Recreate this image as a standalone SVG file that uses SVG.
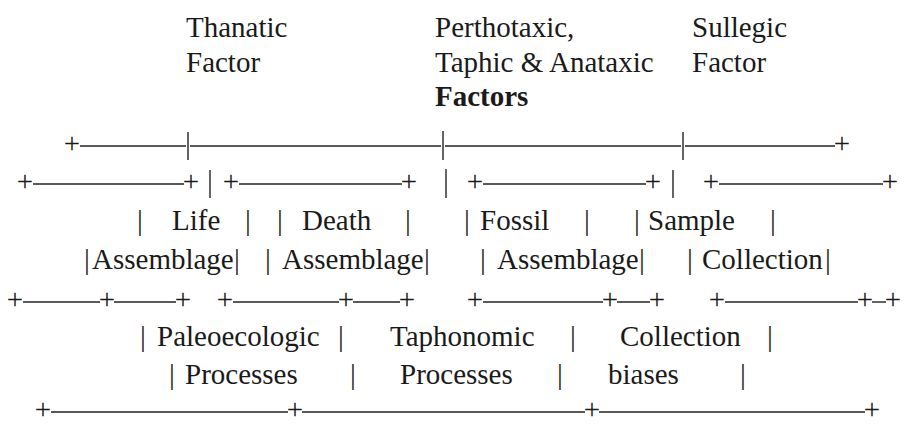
<svg xmlns="http://www.w3.org/2000/svg" width="905" height="425" viewBox="0 0 905 425">
<style>
text{font-family:"Liberation Serif","Times New Roman",serif;font-size:29px;fill:#1a1a1a}
.b{font-weight:bold}
.m{text-anchor:middle}
line{stroke:#222;stroke-width:1.4}
</style>
<rect width="905" height="425" fill="#fff"/>
<g id="headers">
<text x="186" y="37">Thanatic</text>
<text x="186" y="72">Factor</text>
<text x="435" y="37">Perthotaxic,</text>
<text x="435" y="72">Taphic &amp; Anataxic</text>
<text x="435" y="106" class="b">Factors</text>
<text x="692" y="37">Sullegic</text>
<text x="692" y="72">Factor</text>
</g>
<g id="rowA">
<text x="72" y="153" class="m">+</text>
<line x1="80" y1="146" x2="186" y2="146"/>
<line x1="188" y1="132" x2="188" y2="160"/>
<line x1="190" y1="146" x2="441" y2="146"/>
<line x1="443" y1="131" x2="443" y2="160"/>
<line x1="445" y1="146" x2="681" y2="146"/>
<line x1="683" y1="132" x2="683" y2="160"/>
<line x1="685" y1="146" x2="835" y2="146"/>
<text x="842" y="153" class="m">+</text>
</g>
<g id="rowB">
<text x="25" y="191" class="m">+</text>
<line x1="33" y1="184" x2="184" y2="184"/>
<text x="191" y="191" class="m">+</text>
<line x1="210" y1="170" x2="210" y2="198"/>
<text x="231" y="191" class="m">+</text>
<line x1="239" y1="184" x2="402" y2="184"/>
<text x="409" y="191" class="m">+</text>
<line x1="446" y1="169" x2="446" y2="198"/>
<text x="475" y="191" class="m">+</text>
<line x1="483" y1="184" x2="646" y2="184"/>
<text x="653" y="191" class="m">+</text>
<line x1="673" y1="170" x2="673" y2="198"/>
<text x="711" y="191" class="m">+</text>
<line x1="719" y1="184" x2="883" y2="184"/>
<text x="890" y="191" class="m">+</text>
</g>
<g id="life-death-fossil-sample">
<text x="140" y="230" class="m">|</text>
<text x="172" y="230">Life</text>
<text x="248" y="230" class="m">|</text>
<text x="280" y="230" class="m">|</text>
<text x="302" y="230">Death</text>
<text x="408" y="230" class="m">|</text>
<text x="467" y="230" class="m">|</text>
<text x="480" y="230">Fossil</text>
<text x="587" y="230" class="m">|</text>
<text x="637" y="230" class="m">|</text>
<text x="648" y="230">Sample</text>
<text x="773" y="230" class="m">|</text>
</g>
<g id="assemblage-row">
<text x="87" y="269" class="m">|</text>
<text x="92" y="269">Assemblage</text>
<text x="237" y="269" class="m">|</text>
<text x="268" y="269" class="m">|</text>
<text x="282" y="269">Assemblage</text>
<text x="427" y="269" class="m">|</text>
<text x="483" y="269" class="m">|</text>
<text x="497" y="269">Assemblage</text>
<text x="642" y="269" class="m">|</text>
<text x="690" y="269" class="m">|</text>
<text x="702" y="269">Collection</text>
<text x="828" y="269" class="m">|</text>
</g>
<g id="rowE">
<text x="15" y="309" class="m">+</text>
<line x1="23" y1="302" x2="100" y2="302"/>
<text x="107" y="309" class="m">+</text>
<line x1="114" y1="302" x2="176" y2="302"/>
<text x="183" y="309" class="m">+</text>
<text x="225" y="309" class="m">+</text>
<line x1="233" y1="302" x2="339" y2="302"/>
<text x="346" y="309" class="m">+</text>
<line x1="353" y1="302" x2="400" y2="302"/>
<text x="407" y="309" class="m">+</text>
<text x="475" y="309" class="m">+</text>
<line x1="483" y1="302" x2="603" y2="302"/>
<text x="610" y="309" class="m">+</text>
<line x1="617" y1="302" x2="650" y2="302"/>
<text x="657" y="309" class="m">+</text>
<text x="717" y="309" class="m">+</text>
<line x1="725" y1="302" x2="858" y2="302"/>
<text x="865" y="309" class="m">+</text>
<line x1="872" y1="302" x2="886" y2="302"/>
<text x="893" y="309" class="m">+</text>
</g>
<g id="processes-row1">
<text x="143" y="346" class="m">|</text>
<text x="157" y="346">Paleoecologic</text>
<text x="341" y="346" class="m">|</text>
<text x="390" y="346">Taphonomic</text>
<text x="573" y="346" class="m">|</text>
<text x="620" y="346">Collection</text>
<text x="770" y="346" class="m">|</text>
</g>
<g id="processes-row2">
<text x="172" y="384" class="m">|</text>
<text x="185" y="384">Processes</text>
<text x="353" y="384" class="m">|</text>
<text x="400" y="384">Processes</text>
<text x="560" y="384" class="m">|</text>
<text x="608" y="384">biases</text>
<text x="743" y="384" class="m">|</text>
</g>
<g id="rowH">
<text x="43" y="418.5" class="m">+</text>
<line x1="51" y1="412" x2="288" y2="412"/>
<text x="295" y="418.5" class="m">+</text>
<line x1="302" y1="412" x2="585" y2="412"/>
<text x="592" y="418.5" class="m">+</text>
<line x1="599" y1="412" x2="865" y2="412"/>
<text x="872" y="418.5" class="m">+</text>
</g>
</svg>
